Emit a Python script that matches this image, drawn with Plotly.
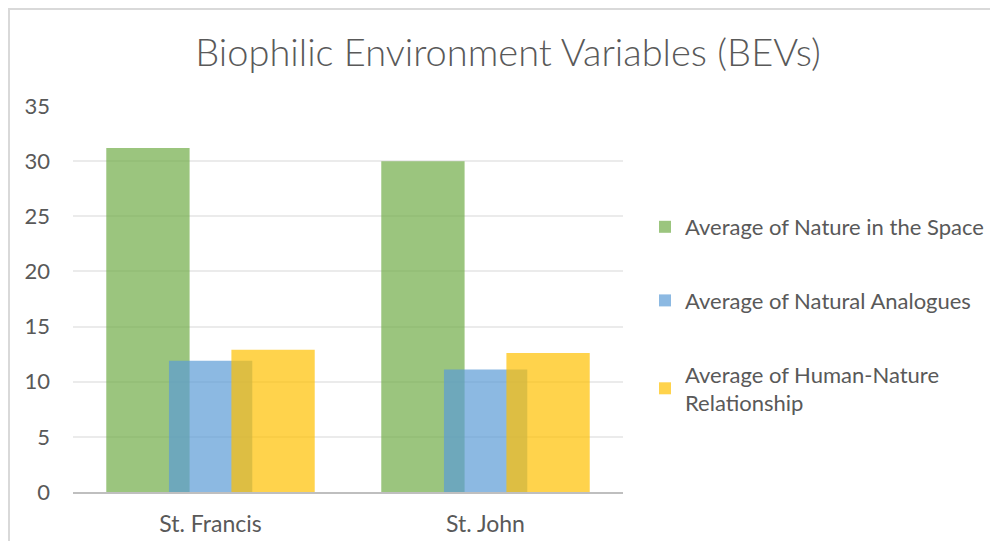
import plotly.graph_objects as go

categories = ["St. Francis", "St. John"]
series_names = [
    "Average of Nature in the Space",
    "Average of Natural Analogues",
    "Average of Human-Nature<br>Relationship",
]
nature_in_space = [31.2, 30.0]
natural_analogues = [11.9, 11.1]
human_nature = [12.9, 12.6]
y_ticks = [0, 5, 10, 15, 20, 25, 30, 35]

colors = ["rgba(112,173,71,0.7)", "rgba(91,155,213,0.7)", "rgba(255,192,0,0.7)"]
offsets = [-0.379, -0.151, 0.076]
bar_width = 0.303

# page body has an 8px margin on every side; keep the page exactly 998x549
PAD = 8
W, H = 998 - 2 * PAD, 549 - 2 * PAD
L = 73 - PAD
R = W - (623 - PAD)
T = 106 - PAD
B = H - (492 - PAD)
PW, PH = W - L - R, H - T - B


def px_x(x):
    return (x - PAD - L) / PW


def px_y(y):
    return (H - B - (y - PAD)) / PH


fig = go.Figure()
for i, (name, vals) in enumerate(zip(series_names, [nature_in_space, natural_analogues, human_nature])):
    fig.add_trace(go.Bar(
        x=categories, y=vals, name=name,
        marker=dict(color=colors[i], line=dict(width=0)),
        width=bar_width, offset=offsets[i],
        legendgroup=f"g{i}",
    ))

font_family = "Lato, 'Open Sans', sans-serif"
fig.update_layout(
    width=W, height=H,
    margin=dict(l=L, r=R, t=T, b=B, autoexpand=False),
    paper_bgcolor="white", plot_bgcolor="white",
    barmode="overlay",
    font=dict(family=font_family, color="#595959", size=22),
    title=dict(
        text="Biophilic Environment Variables (BEVs)",
        x=(508 - PAD) / W, xanchor="center", xref="container",
        y=1 - (53 - PAD) / H, yanchor="middle", yref="container",
        font=dict(family=font_family, size=38, color="#595959", weight=300),
    ),
    showlegend=True,
    legend=dict(
        x=px_x(645), xanchor="left",
        y=px_y(206), yanchor="top",
        font=dict(size=22, color="#595959"),
        tracegroupgap=42,
        bgcolor="rgba(0,0,0,0)",
    ),
    xaxis=dict(
        automargin=False,
        showline=True, linecolor="#BFBFBF", linewidth=2,
        showgrid=False, ticks="", ticklabelstandoff=10,
        tickfont=dict(size=23, color="#595959"),
    ),
    yaxis=dict(
        automargin=False,
        range=[0, 35], tickvals=y_ticks, showgrid=True,
        gridcolor="#EBEBEB", gridwidth=1.5, zeroline=False,
        showline=False, ticks="", ticklabelstandoff=22,
        tickfont=dict(size=22, color="#595959"),
    ),
    shapes=[
        dict(type="line", xref="paper", yref="paper",
             x0=px_x(8), x1=px_x(1010),
             y0=px_y(9), y1=px_y(9),
             line=dict(color="#D9D9D9", width=2)),
        dict(type="line", xref="paper", yref="paper",
             x0=px_x(9), x1=px_x(9),
             y0=px_y(8), y1=px_y(560),
             line=dict(color="#D9D9D9", width=2)),
    ],
)

fig.write_html("out.html")
